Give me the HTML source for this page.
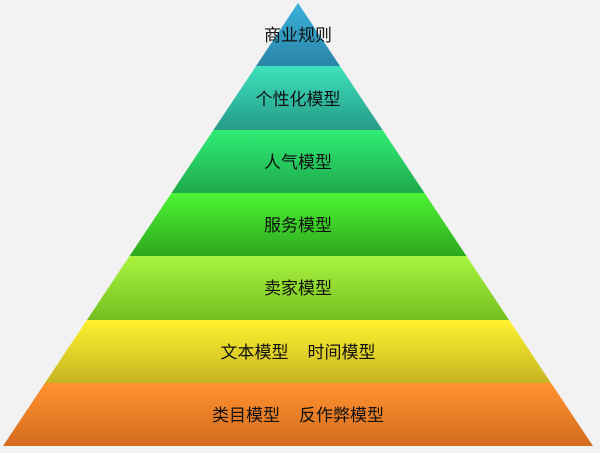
<!DOCTYPE html>
<html><head><meta charset="utf-8"><style>
html,body{margin:0;padding:0;background:#f2f2f2;}
svg{display:block}
text{font-family:"Liberation Sans","Noto Sans CJK SC",sans-serif;font-size:17px;fill:#111;text-anchor:middle}
</style></head><body>
<svg width="600" height="453" viewBox="0 0 600 453">
<defs>
<clipPath id="c"><polygon points="298,3 593,446 3,446"/></clipPath>
<linearGradient id="g1" x1="0" y1="0" x2="0" y2="1"><stop offset="0" stop-color="#3bb4de"/><stop offset="1" stop-color="#2a84a6"/></linearGradient>
<linearGradient id="g2" x1="0" y1="0" x2="0" y2="1"><stop offset="0" stop-color="#3ee2bc"/><stop offset="1" stop-color="#259a88"/></linearGradient>
<linearGradient id="g3" x1="0" y1="0" x2="0" y2="1"><stop offset="0" stop-color="#30ec74"/><stop offset="1" stop-color="#1ea94c"/></linearGradient>
<linearGradient id="g4" x1="0" y1="0" x2="0" y2="1"><stop offset="0" stop-color="#4cf434"/><stop offset="1" stop-color="#2ea81e"/></linearGradient>
<linearGradient id="g5" x1="0" y1="0" x2="0" y2="1"><stop offset="0" stop-color="#aaf440"/><stop offset="1" stop-color="#76be20"/></linearGradient>
<linearGradient id="g6" x1="0" y1="0" x2="0" y2="1"><stop offset="0" stop-color="#fff22e"/><stop offset="1" stop-color="#c6b422"/></linearGradient>
<linearGradient id="g7" x1="0" y1="0" x2="0" y2="1"><stop offset="0" stop-color="#ff9230"/><stop offset="1" stop-color="#d46c1e"/></linearGradient>
</defs>
<g clip-path="url(#c)">
<rect x="0" y="0" width="600" height="66" fill="url(#g1)"/>
<rect x="0" y="66" width="600" height="64" fill="url(#g2)"/>
<rect x="0" y="130" width="600" height="63" fill="url(#g3)"/>
<rect x="0" y="193" width="600" height="63" fill="url(#g4)"/>
<rect x="0" y="256" width="600" height="64" fill="url(#g5)"/>
<rect x="0" y="320" width="600" height="63" fill="url(#g6)"/>
<rect x="0" y="383" width="600" height="63" fill="url(#g7)"/>
</g>
<text x="298" y="41">商业规则</text>
<text x="298" y="105">个性化模型</text>
<text x="298" y="168">人气模型</text>
<text x="298" y="231">服务模型</text>
<text x="298" y="294">卖家模型</text>
<text x="298" y="358" xml:space="preserve">文本模型    时间模型</text>
<text x="298" y="421" xml:space="preserve">类目模型    反作弊模型</text>
</svg>
</body></html>
